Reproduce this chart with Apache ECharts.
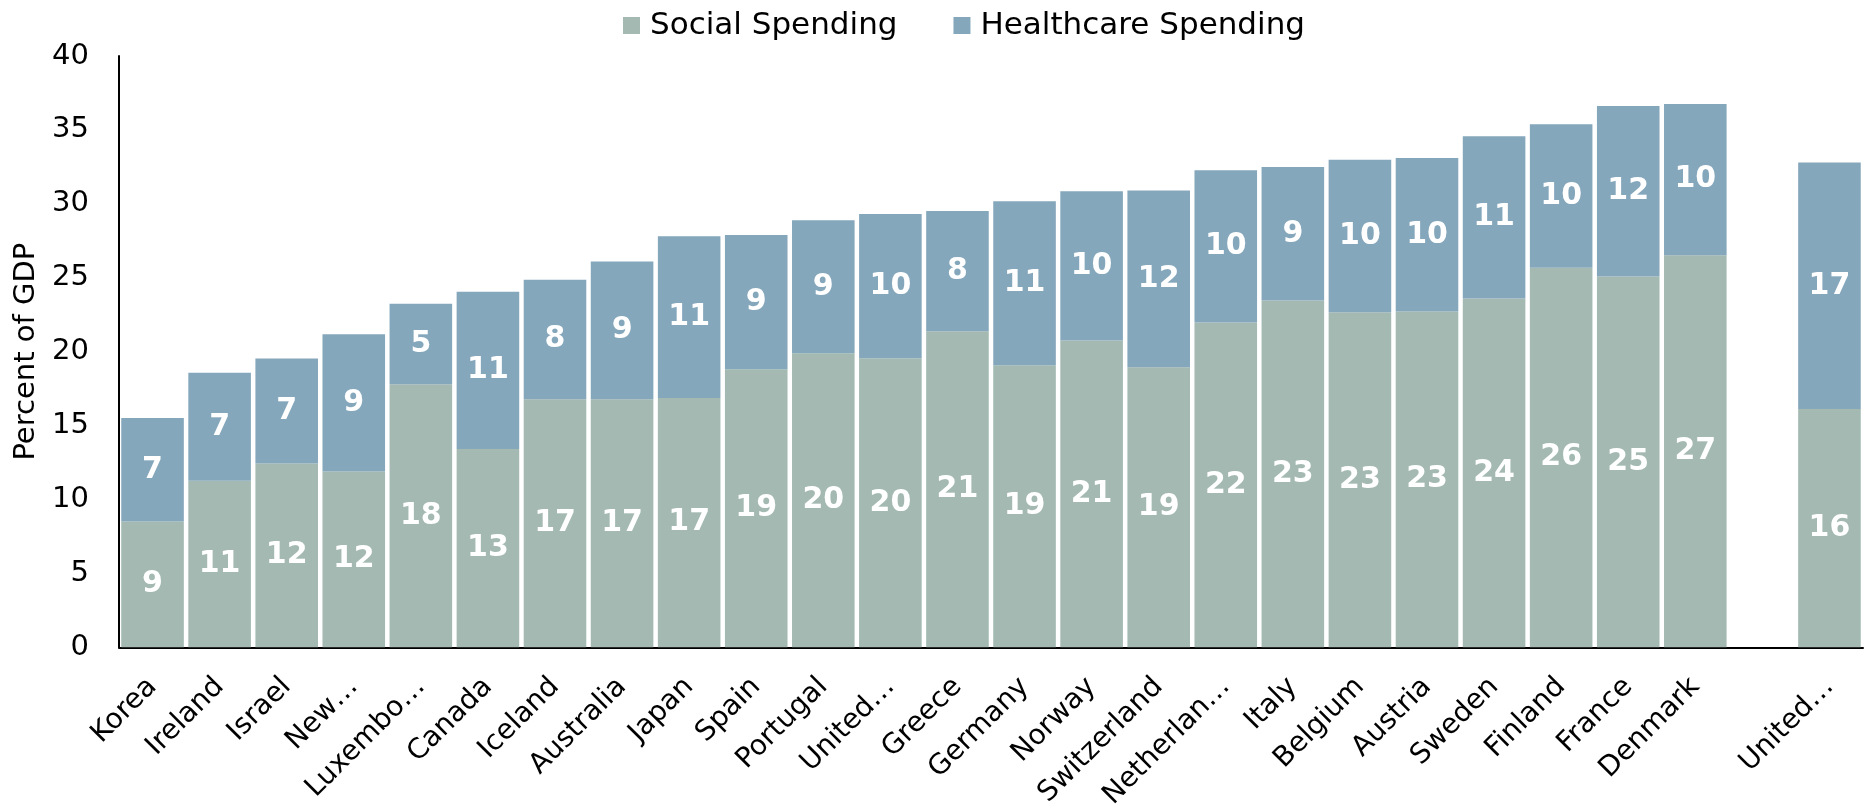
<!DOCTYPE html>
<html>
<head>
<meta charset="utf-8">
<script src="https://cdn.jsdelivr.net/npm/echarts@6/dist/echarts.min.js"></script>
<style>
html,body{margin:0;padding:0;background:#fff;}
#chart{width:1868px;height:812px;}
</style>
</head>
<body>
<div id="chart"></div>
<script>
const categories = ["Korea","Ireland","Israel","New\u2026","Luxembo\u2026","Canada","Iceland","Australia","Japan","Spain","Portugal","United\u2026","Greece","Germany","Norway","Switzerland","Netherlan\u2026","Italy","Belgium","Austria","Sweden","Finland","France","Denmark","","United\u2026"];
const socialSpending = [8.52, 11.27, 12.44, 11.90, 17.80, 13.42, 16.79, 16.79, 16.87, 18.82, 19.90, 19.56, 21.38, 19.09, 20.75, 18.94, 21.98, 23.46, 22.66, 22.72, 23.60, 25.68, 25.08, 26.53, null, 16.13];
const healthcareSpending = [6.99, 7.31, 7.10, 9.28, 5.44, 10.63, 8.08, 9.31, 10.94, 9.08, 8.99, 9.75, 8.13, 11.09, 10.11, 11.96, 10.29, 9.03, 10.33, 10.38, 10.98, 9.70, 11.54, 10.22, null, 16.66];
const yTicks = [0, 5, 10, 15, 20, 25, 30, 35, 40];
const seriesNames = ["Social Spending", "Healthcare Spending"];

const FONT = "DejaVu Sans";
const chart = echarts.init(document.getElementById('chart'), null, {renderer: 'canvas'});
const barLabel = {
  show: true,
  position: 'inside',
  color: '#fff',
  fontWeight: 'bold',
  fontFamily: FONT,
  fontSize: 30,
  formatter: p => (p.value == null ? '' : String(Math.round(p.value)))
};
chart.setOption({
  animation: false,
  textStyle: {fontFamily: FONT},
  legend: {
    top: 5,
    left: 618,
    itemWidth: 17,
    itemHeight: 17,
    itemGap: 56,
    icon: 'rect',
    textStyle: {fontFamily: FONT, fontSize: 31, color: '#000', padding: [0, 0, 0, 5]},
    data: seriesNames
  },
  grid: {left: 119, right: 5, top: 56, bottom: 161, containLabel: false},
  xAxis: {
    type: 'category',
    data: categories,
    axisLine: {lineStyle: {color: '#000', width: 2}},
    axisTick: {show: false},
    axisLabel: {
      interval: 0,
      rotate: 45,
      margin: 35,
      fontFamily: FONT,
      fontSize: 28,
      color: '#000'
    }
  },
  yAxis: {
    type: 'value',
    min: yTicks[0],
    max: yTicks[yTicks.length - 1],
    interval: 5,
    name: 'Percent of GDP',
    nameLocation: 'middle',
    nameGap: 70,
    nameTextStyle: {fontFamily: FONT, fontSize: 29, color: '#000'},
    axisLine: {show: true, lineStyle: {color: '#000', width: 2}},
    axisTick: {show: false},
    splitLine: {show: false},
    axisLabel: {margin: 30, fontFamily: FONT, fontSize: 29, color: '#000'}
  },
  series: [
    {
      name: seriesNames[0],
      type: 'bar',
      stack: 'total',
      barCategoryGap: '6.7%',
      itemStyle: {color: '#a3b9b1'},
      label: barLabel,
      data: socialSpending
    },
    {
      name: seriesNames[1],
      type: 'bar',
      stack: 'total',
      barCategoryGap: '6.7%',
      itemStyle: {color: '#85a7bb'},
      label: barLabel,
      data: healthcareSpending
    }
  ]
});
</script>
</body>
</html>
